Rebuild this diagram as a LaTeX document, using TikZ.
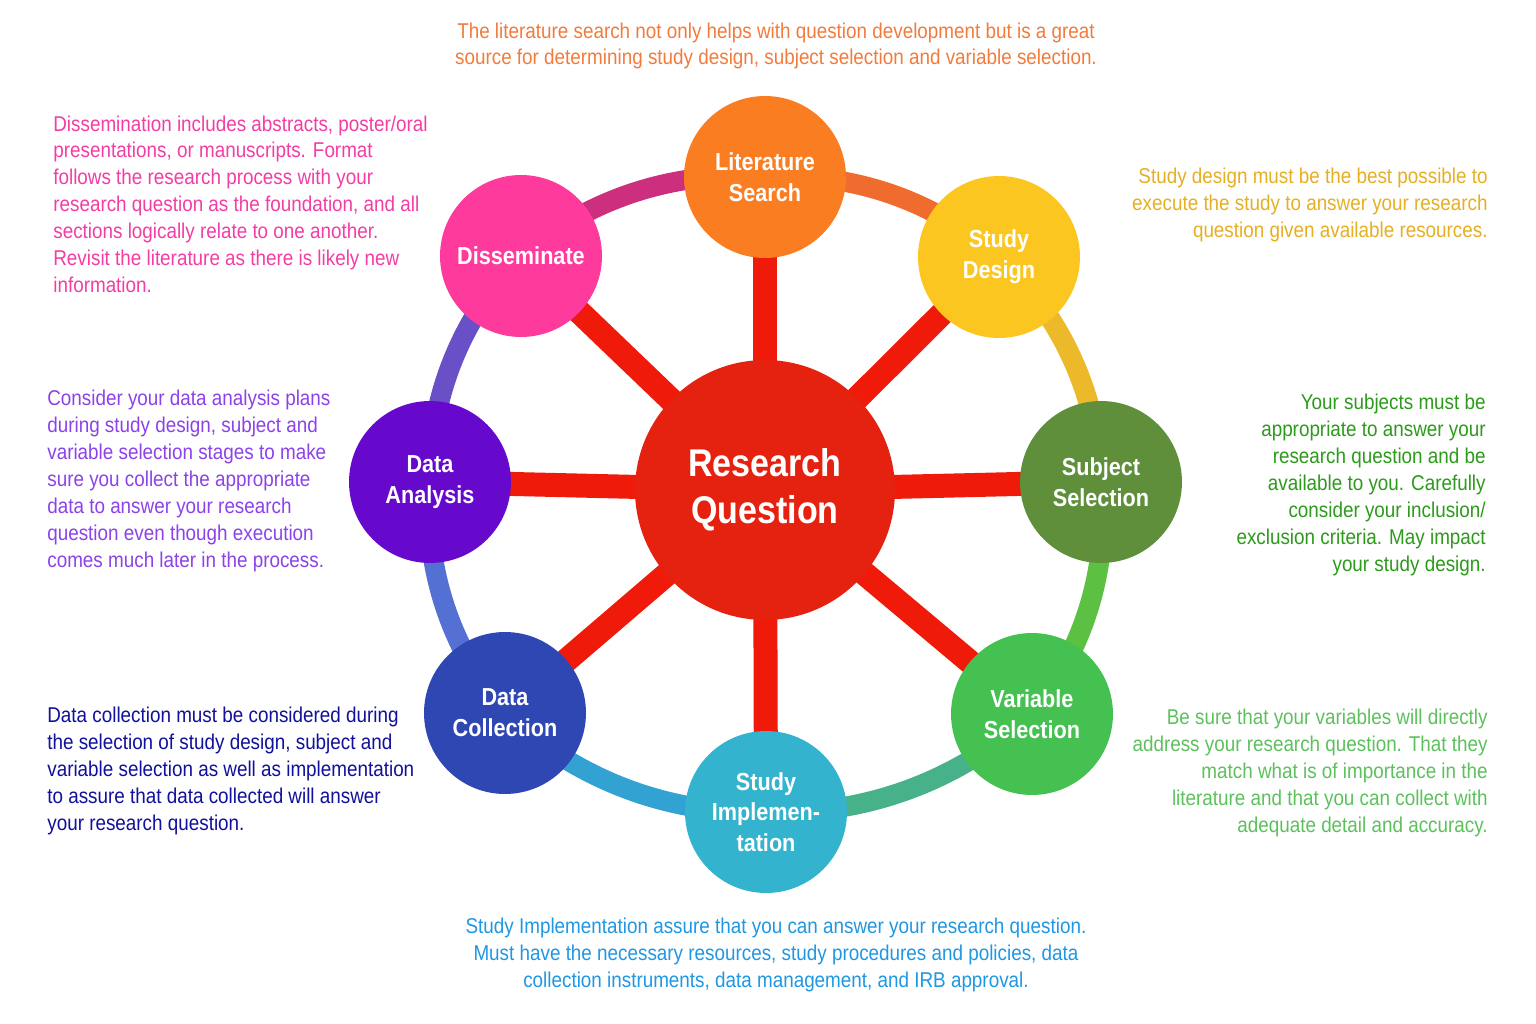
\documentclass[tikz,border=0pt]{standalone}
\usepackage{fontspec}
\setmainfont{Liberation Sans}[FakeStretch=0.88]
\usetikzlibrary{backgrounds}

\definecolor{rqred}{HTML}{E52210}
\definecolor{spokered}{HTML}{F01A0A}
\definecolor{litorange}{HTML}{FA7D22}
\definecolor{designyellow}{HTML}{FCC620}
\definecolor{subjgreen}{HTML}{5F8F3B}
\definecolor{vargreen}{HTML}{45C152}
\definecolor{implcyan}{HTML}{33B3CD}
\definecolor{collblue}{HTML}{2F47B3}
\definecolor{analpurple}{HTML}{6609CC}
\definecolor{dissepink}{HTML}{FF3A9D}
% ring segments
\definecolor{rimlit}{HTML}{F06C2E}
\definecolor{rimdesign}{HTML}{ECB92A}
\definecolor{rimsubj}{HTML}{5CC043}
\definecolor{rimvar}{HTML}{47B289}
\definecolor{rimimpl}{HTML}{32A2D2}
\definecolor{rimcoll}{HTML}{5470D2}
\definecolor{rimanal}{HTML}{6A50C6}
\definecolor{rimdiss}{HTML}{CB2F7E}
% notes
\definecolor{notelit}{HTML}{F27B3B}
\definecolor{notedesign}{HTML}{E6AF22}
\definecolor{notesubj}{HTML}{2C9A1A}
\definecolor{notevar}{HTML}{5CC15C}
\definecolor{noteimpl}{HTML}{1F97E2}
\definecolor{notecoll}{HTML}{10109C}
\definecolor{noteanal}{HTML}{8C42E8}
\definecolor{notediss}{HTML}{F23DA5}

\begin{document}
\begin{tikzpicture}
   [x=0.02cm, y=0.02cm,
    stage/.style={circle, minimum size=3.24cm, inner sep=0pt, align=center,
                  text=white, font=\fontsize{14}{17.5}\selectfont\bfseries},
    spoke/.style={line width=0.48cm, draw=spokered},
    rim/.style={line width=0.4cm, bend left=22.5, looseness=0.89},
    note/.style={inner sep=0pt, font=\fontsize{12.2}{15.3}\selectfont}]
   \useasboundingbox (0,0) rectangle (1536,-1024);

   \node[stage, fill=rqred, minimum size=5.2cm,
         font=\fontsize{22}{27}\selectfont\bfseries] (rq) at (765,-490) {Research\\Question};
   \node[stage, fill=litorange] (lit) at (765,-177) {Literature\\Search};
   \node[stage, fill=designyellow] (design) at (999,-257) {Study\\Design};
   \node[stage, fill=subjgreen] (subj) at (1101,-482) {Subject\\Selection};
   \node[stage, fill=vargreen] (var) at (1032,-714) {Variable\\Selection};
   \node[stage, fill=implcyan] (impl) at (766,-812) {Study\\Implemen-\\tation};
   \node[stage, fill=collblue] (coll) at (505,-713) {Data\\Collection};
   \node[stage, fill=analpurple] (anal) at (430,-482) {Data\\Analysis};
   \node[stage, fill=dissepink] (diss) at (521,-256) {Disseminate};

   \begin{scope}[on background layer]
      \foreach \s in {lit,design,subj,var,impl,coll,anal,diss}
         \draw[spoke] (rq.center) -- (\s.center);
      \draw[rim, draw=rimlit] (lit.center) to (design.center);
      \draw[rim, draw=rimdesign] (design.center) to (subj.center);
      \draw[rim, draw=rimsubj] (subj.center) to (var.center);
      \draw[rim, draw=rimvar] (var.center) to (impl.center);
      \draw[rim, draw=rimimpl] (impl.center) to (coll.center);
      \draw[rim, draw=rimcoll] (coll.center) to (anal.center);
      \draw[rim, draw=rimanal] (anal.center) to (diss.center);
      \draw[rim, draw=rimdiss] (diss.center) to (lit.center);
   \end{scope}

   % notes round the wheel
   \node[note, text=notelit, align=center] (litnote) at (776,-46)
      {The literature search not only helps with question development but is a great\\
       source for determining study design, subject selection and variable selection.};
   \node[note, text=notediss, align=left, anchor=west] (dissnote) at (53,-204)
      {Dissemination includes abstracts, poster/oral\\
       presentations, or manuscripts. Format\\
       follows the research process with your\\
       research question as the foundation, and all\\
       sections logically relate to one another.\\
       Revisit the literature as there is likely new\\
       information.};
   \node[note, text=notedesign, align=right, anchor=east] (designnote) at (1488,-205)
      {Study design must be the best possible to\\
       execute the study to answer your research\\
       question given available resources.};
   \node[note, text=notesubj, align=right, anchor=east] (subjnote) at (1486,-485)
      {Your subjects must be\\
       appropriate to answer your\\
       research question and be\\
       available to you. Carefully\\
       consider your inclusion/\\
       exclusion criteria. May impact\\
       your study design.};
   \node[note, text=notevar, align=right, anchor=east] (varnote) at (1488,-773)
      {Be sure that your variables will directly\\
       address your research question. That they\\
       match what is of importance in the\\
       literature and that you can collect with\\
       adequate detail and accuracy.};
   \node[note, text=noteanal, align=left, anchor=west] (analnote) at (47,-481)
      {Consider your data analysis plans\\
       during study design, subject and\\
       variable selection stages to make\\
       sure you collect the appropriate\\
       data to answer your research\\
       question even though execution\\
       comes much later in the process.};
   \node[note, text=notecoll, align=left, anchor=west] (collnote) at (47,-771)
      {Data collection must be considered during\\
       the selection of study design, subject and\\
       variable selection as well as implementation\\
       to assure that data collected will answer\\
       your research question.};
   \node[note, text=noteimpl, align=center] (implnote) at (776,-955)
      {Study Implementation assure that you can answer your research question.\\
       Must have the necessary resources, study procedures and policies, data\\
       collection instruments, data management, and IRB approval.};
\end{tikzpicture}
\end{document}
